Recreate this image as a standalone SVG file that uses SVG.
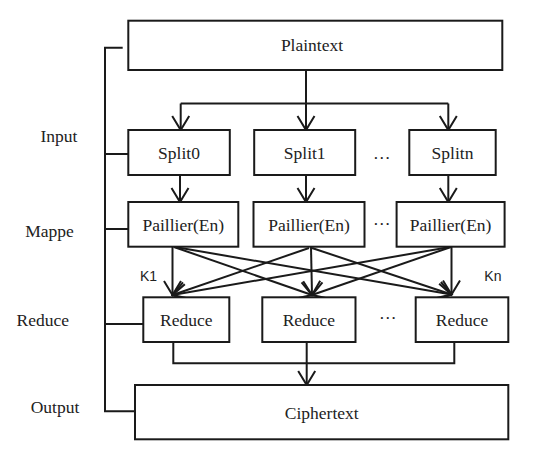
<svg xmlns="http://www.w3.org/2000/svg" width="545" height="462" viewBox="0 0 545 462">
<style>
.box{fill:#fff;stroke:#1a1a1a;stroke-width:2}
.t{font-family:"Liberation Serif","Times New Roman",serif;font-size:17.5px;fill:#222;text-anchor:middle}
.lbl{font-family:"Liberation Serif","Times New Roman",serif;font-size:17.5px;fill:#222;text-anchor:middle}
.k{font-family:"Liberation Sans",Arial,sans-serif;font-size:14px;fill:#222}
.ln{fill:none;stroke:#1a1a1a;stroke-width:2}
.ar{fill:none;stroke:#1a1a1a;stroke-width:2;marker-end:url(#v)}
</style>
<defs>
<marker id="v" markerUnits="userSpaceOnUse" viewBox="-17 -11 19 22" markerWidth="19" markerHeight="22" refX="0" refY="0" orient="auto">
<path d="M-14,-8.5 L0,0 L-14,8.5" fill="none" stroke="#1a1a1a" stroke-width="2"/>
</marker>
</defs>
<rect width="545" height="462" fill="#fff"/>
<g id="stage-labels">
<text class="lbl" x="59" y="141.5">Input</text>
<text class="lbl" x="49.5" y="236.5">Mappe</text>
<text class="lbl" x="42.7" y="326">Reduce</text>
<text class="lbl" x="55" y="413">Output</text>
</g>
<g id="connectors">
<path class="ln" d="M122.7,47.7 H105 V411.3 H135"/>
<path class="ln" d="M105,154 H128.3"/>
<path class="ln" d="M105,229 H128.3"/>
<path class="ln" d="M105,324 H143.3"/>
<path class="ln" d="M306,70 V103.5"/>
<path class="ln" d="M180.7,103.5 H448.3"/>
<path class="ar" d="M180.7,103.5 V130"/>
<path class="ar" d="M306,103.5 V130"/>
<path class="ar" d="M448.3,103.5 V130"/>
<path class="ar" d="M180,175 V202"/>
<path class="ar" d="M306,175 V202"/>
<path class="ar" d="M448.3,175 V202"/>
<path class="ar" d="M172.5,247 V295"/>
<path class="ar" d="M174,247 L312,295"/>
<path class="ar" d="M175,247 L451.5,294.5"/>
<path class="ar" d="M309,248 L172.5,295"/>
<path class="ar" d="M311,247 L312,295"/>
<path class="ar" d="M312,248 L451.5,294.5"/>
<path class="ar" d="M450,247 L172.5,295"/>
<path class="ar" d="M451,247 L312,295"/>
<path class="ar" d="M451.5,247 V294.5"/>
<path class="ln" d="M173.3,342 V363.3 H454.3 V342"/>
<path class="ar" d="M306.7,342 V385"/>
</g>
<g id="plaintext"><rect class="box" x="128.3" y="20.7" width="374" height="49.3"/><text class="t" x="312" y="50.8">Plaintext</text></g>
<g id="split0"><rect class="box" x="128.3" y="130" width="101.5" height="45"/><text class="t" x="179" y="158.8">Split0</text></g>
<g id="split1"><rect class="box" x="254.2" y="130" width="101" height="45"/><text class="t" x="304.7" y="158.8">Split1</text></g>
<g id="splitn"><rect class="box" x="409.3" y="130" width="86.4" height="45"/><text class="t" x="452.5" y="158.8">Splitn</text></g>
<text class="t" x="381.7" y="159">…</text>
<g id="paillier0"><rect class="box" x="128.3" y="202" width="110" height="44.7"/><text class="t" x="183.3" y="230.5">Paillier(En)</text></g>
<g id="paillier1"><rect class="box" x="253.5" y="202" width="111" height="44.7"/><text class="t" x="309" y="230.5">Paillier(En)</text></g>
<g id="pailliern"><rect class="box" x="396.6" y="202" width="108" height="44.7"/><text class="t" x="450.6" y="230.5">Paillier(En)</text></g>
<text class="t" x="381.7" y="225">…</text>
<text class="k" x="140" y="280.5">K1</text>
<text class="k" x="484.3" y="280.5">Kn</text>
<g id="reduce0"><rect class="box" x="143.3" y="297.3" width="86" height="44.7"/><text class="t" x="186.3" y="325.5">Reduce</text></g>
<g id="reduce1"><rect class="box" x="262.3" y="297.3" width="93.2" height="44.7"/><text class="t" x="308.9" y="325.5">Reduce</text></g>
<g id="reducen"><rect class="box" x="415.7" y="297.3" width="92.6" height="44.7"/><text class="t" x="462" y="325.5">Reduce</text></g>
<text class="t" x="387.7" y="319">…</text>
<g id="ciphertext"><rect class="box" x="135" y="385" width="373.3" height="54.3"/><text class="t" x="321.7" y="419.3">Ciphertext</text></g>
</svg>
